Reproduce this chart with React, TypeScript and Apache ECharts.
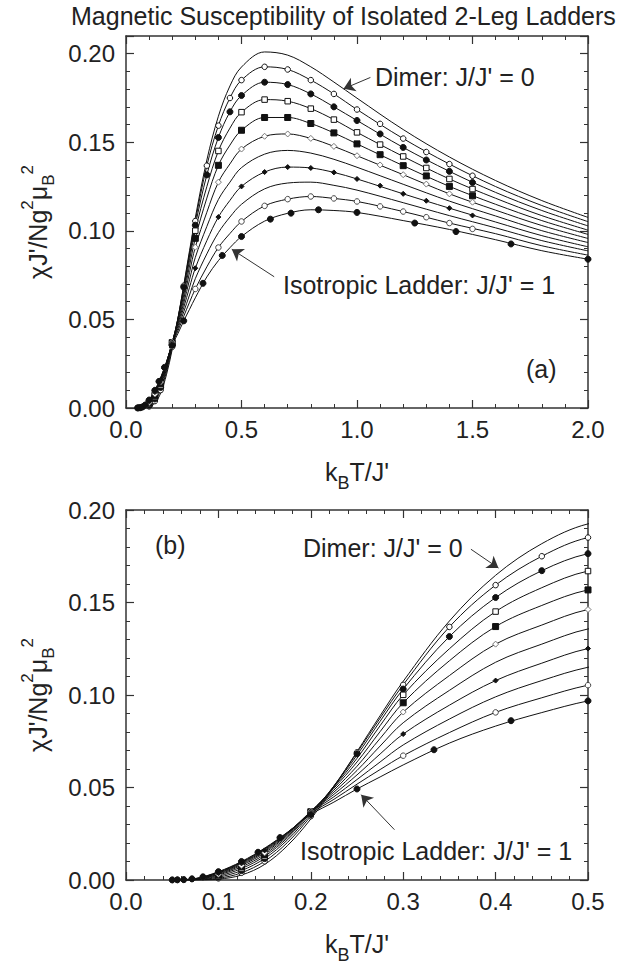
import React, { useEffect, useRef } from "react";
import * as echarts from "echarts";

// Temperature grid k_B T / J' used for the smooth curves
const T = [0.05, 0.075, 0.1, 0.125, 0.15, 0.175, 0.2, 0.225, 0.25, 0.275, 0.3, 0.35, 0.4, 0.45, 0.5, 0.6, 0.7, 0.8, 0.9, 1.0, 1.2, 1.4, 1.6, 1.8, 2.0];

// chi J' / N g^2 mu_B^2 for J/J' = 0 ... 1
const chi00 = [0, 0.00002, 0.00045, 0.0027, 0.0084, 0.0187, 0.033, 0.0504, 0.0694, 0.0888, 0.1074, 0.14, 0.1647, 0.1818, 0.1925, 0.201, 0.1992, 0.1926, 0.184, 0.1749, 0.1572, 0.1417, 0.1284, 0.1171, 0.1076];
const chi01 = [0, 0.00006, 0.0009, 0.0039, 0.0101, 0.0204, 0.0345, 0.0508, 0.0688, 0.0875, 0.1055, 0.1368, 0.1594, 0.175, 0.1851, 0.1926, 0.1911, 0.1851, 0.1773, 0.1685, 0.1521, 0.1377, 0.125, 0.1143, 0.1052];
const chi02 = [0, 0.00013, 0.0015, 0.0051, 0.0116, 0.0218, 0.0356, 0.0508, 0.0675, 0.0858, 0.1032, 0.1316, 0.1527, 0.1672, 0.1764, 0.1839, 0.1826, 0.1773, 0.17, 0.1623, 0.1471, 0.1336, 0.1217, 0.1115, 0.1028];
const chi03 = [0.00001, 0.00022, 0.0021, 0.0062, 0.0128, 0.0229, 0.0364, 0.0503, 0.0658, 0.0834, 0.1001, 0.125, 0.1451, 0.158, 0.167, 0.1741, 0.1732, 0.169, 0.1628, 0.1556, 0.142, 0.1293, 0.1184, 0.1086, 0.1004];
const chi04 = [0.00001, 0.00032, 0.0027, 0.0071, 0.0138, 0.0237, 0.0369, 0.0496, 0.0638, 0.0802, 0.0958, 0.1185, 0.137, 0.1484, 0.1568, 0.164, 0.164, 0.1606, 0.1553, 0.1491, 0.1368, 0.1251, 0.115, 0.1058, 0.098];
const chi05 = [0.00002, 0.00042, 0.0031, 0.0079, 0.0147, 0.0244, 0.0371, 0.0486, 0.0615, 0.0765, 0.0908, 0.1105, 0.1275, 0.1378, 0.1462, 0.1534, 0.1547, 0.1522, 0.1477, 0.1424, 0.1317, 0.1209, 0.1117, 0.103, 0.0957];
const chi06 = [0.00002, 0.0005, 0.0035, 0.0085, 0.0154, 0.0249, 0.0371, 0.0475, 0.0592, 0.0724, 0.085, 0.1025, 0.1177, 0.1275, 0.1357, 0.1433, 0.1454, 0.1439, 0.1404, 0.1359, 0.1263, 0.1168, 0.1084, 0.1001, 0.0934];
const chi07 = [0.00003, 0.00058, 0.0038, 0.009, 0.016, 0.0253, 0.0369, 0.0463, 0.0568, 0.0681, 0.0789, 0.0945, 0.1078, 0.1172, 0.1251, 0.1332, 0.136, 0.1355, 0.133, 0.1293, 0.1209, 0.1128, 0.105, 0.0973, 0.091];
const chi08 = [0.00004, 0.00064, 0.0041, 0.0094, 0.0165, 0.0256, 0.0365, 0.045, 0.0543, 0.0638, 0.073, 0.087, 0.099, 0.1078, 0.115, 0.1237, 0.127, 0.1275, 0.1257, 0.123, 0.1159, 0.1086, 0.1017, 0.0945, 0.0887];
const chi09 = [0.00004, 0.00069, 0.0043, 0.0097, 0.0169, 0.0258, 0.036, 0.0436, 0.0518, 0.0597, 0.0672, 0.0797, 0.0906, 0.0985, 0.1053, 0.1141, 0.1179, 0.1194, 0.1183, 0.1166, 0.1109, 0.1044, 0.0984, 0.0916, 0.0863];
const chi10 = [0.00005, 0.0008, 0.0045, 0.01, 0.0172, 0.0259, 0.0354, 0.0421, 0.0492, 0.0557, 0.0622, 0.074, 0.0832, 0.0905, 0.0968, 0.1055, 0.1099, 0.1119, 0.1115, 0.1104, 0.1058, 0.1008, 0.095, 0.0888, 0.084];

const curveNames = ["J/J' = 0", "J/J' = 0.1", "J/J' = 0.2", "J/J' = 0.3", "J/J' = 0.4", "J/J' = 0.5", "J/J' = 0.6", "J/J' = 0.7", "J/J' = 0.8", "J/J' = 0.9", "J/J' = 1"];

// Computed points (markers)
const mkTa = [0.1, 0.125, 0.15, 0.2, 0.25, 0.3, 0.35, 0.4, 0.45, 0.5, 0.6, 0.7, 0.8, 0.9, 1.0, 1.1, 1.2, 1.3, 1.4, 1.5];
const mkTb = [0.1, 0.125, 0.15, 0.2, 0.3, 0.4, 0.5, 0.6, 0.7, 0.8, 0.9, 1.0, 1.1, 1.2, 1.3, 1.4, 1.5];
const mkTc = [0.05, 0.0556, 0.0625, 0.0714, 0.0833, 0.1, 0.125, 0.1429, 0.1667, 0.2, 0.3, 0.4, 0.5, 0.6, 0.7, 0.8, 0.9, 1.0, 1.1, 1.2, 1.3, 1.4, 1.5];
const mkTd = [0.05, 0.0556, 0.0625, 0.0714, 0.0833, 0.1, 0.125, 0.1429, 0.1667, 0.2, 0.25, 0.3333, 0.4167, 0.5, 0.625, 0.7143, 0.8333, 1.0, 1.25, 1.4286, 1.6667, 2.0];

const mk01 = [0.0009, 0.0039, 0.0101, 0.0345, 0.069, 0.1055, 0.1368, 0.1594, 0.175, 0.1851, 0.1926, 0.1911, 0.1851, 0.1773, 0.1685, 0.1604, 0.1521, 0.1445, 0.1377, 0.1311];
const mk02 = [0.0015, 0.0051, 0.0116, 0.0356, 0.0682, 0.1032, 0.1316, 0.1527, 0.1672, 0.1764, 0.1839, 0.1826, 0.1773, 0.17, 0.1623, 0.1547, 0.1471, 0.14, 0.1336, 0.1273];
const mk03 = [0.0021, 0.0062, 0.0128, 0.0364, 0.1001, 0.1451, 0.167, 0.1741, 0.1732, 0.169, 0.1628, 0.1556, 0.1487, 0.142, 0.1355, 0.1293, 0.1236];
const mk04 = [0.0027, 0.0071, 0.0138, 0.0369, 0.0958, 0.137, 0.1568, 0.164, 0.164, 0.1606, 0.1553, 0.1491, 0.143, 0.1368, 0.131, 0.1251, 0.1198];
const mk05 = [0.0031, 0.0079, 0.0147, 0.0371, 0.0908, 0.1275, 0.1462, 0.1534, 0.1547, 0.1522, 0.1477, 0.1424, 0.1372, 0.1317, 0.1264, 0.1209, 0.1162];
const mk07 = [0.0038, 0.009, 0.016, 0.0369, 0.0789, 0.1078, 0.1251, 0.1332, 0.136, 0.1355, 0.133, 0.1293, 0.1255, 0.1209, 0.117, 0.1128, 0.1087];
const mk09 = [0.00004, 0.00008, 0.0002, 0.0006, 0.0016, 0.0043, 0.0097, 0.0149, 0.0228, 0.036, 0.0672, 0.0906, 0.1053, 0.1141, 0.1179, 0.1194, 0.1183, 0.1166, 0.1138, 0.1109, 0.1077, 0.1044, 0.1011];
const mk10 = [0.00005, 0.0001, 0.0002, 0.0006, 0.0017, 0.0045, 0.01, 0.015, 0.0229, 0.0354, 0.0492, 0.0704, 0.0861, 0.0968, 0.1066, 0.11, 0.1119, 0.1104, 0.1044, 0.0996, 0.0926, 0.084];

const xTicksTop = [0, 0.5, 1.0, 1.5, 2.0];
const xTicksBottom = [0, 0.1, 0.2, 0.3, 0.4, 0.5];
const yTicks = [0, 0.05, 0.1, 0.15, 0.2];

const FONT = '"Liberation Sans", Arial, Helvetica, sans-serif';
const TEXT = "#222";
const AXIS = "#333";
const LINE = "#111";

const curves = [chi00, chi01, chi02, chi03, chi04, chi05, chi06, chi07, chi08, chi09, chi10];

const markerSets = [
  { t: mkTa, v: mk01, symbol: "circle", size: 5.5, fill: "#fff", border: LINE },
  { t: mkTa, v: mk02, symbol: "circle", size: 6, fill: LINE, border: LINE },
  { t: mkTb, v: mk03, symbol: "rect", size: 5.5, fill: "#fff", border: LINE },
  { t: mkTb, v: mk04, symbol: "rect", size: 6, fill: LINE, border: LINE },
  { t: mkTb, v: mk05, symbol: "diamond", size: 6, fill: "#fff", border: "#777" },
  { t: mkTb, v: mk07, symbol: "diamond", size: 5, fill: LINE, border: LINE },
  { t: mkTc, v: mk09, symbol: "circle", size: 5.5, fill: "#fff", border: "#444" },
  { t: mkTd, v: mk10, symbol: "circle", size: 6, fill: LINE, border: LINE },
];

function xAxes(gridIndex: number, max: number, interval: number, ticks: number[]) {
  const common = {
    gridIndex,
    type: "value",
    min: 0,
    max,
    interval,
    axisLine: { show: true, onZero: false, lineStyle: { color: AXIS, width: 1.5 } },
    axisTick: { show: true, inside: true, length: 8, lineStyle: { color: AXIS, width: 1.2 } },
    minorTick: { show: true, splitNumber: 5, length: 4, lineStyle: { color: AXIS, width: 1 } },
    splitLine: { show: false },
    minorSplitLine: { show: false },
  };
  return [
    {
      ...common,
      position: "bottom",
      axisLabel: {
        show: true,
        fontSize: 24,
        fontFamily: FONT,
        color: TEXT,
        margin: 9,
        formatter: (v: number) => (ticks.some((t) => Math.abs(t - v) < 1e-9) ? v.toFixed(1) : ""),
      },
      name: "{a|k}{b|B}{a|T/J'}",
      nameLocation: "middle",
      nameGap: 51,
      nameTextStyle: {
        color: TEXT,
        fontFamily: FONT,
        fontSize: 25,
        rich: {
          a: { fontSize: 25, fontFamily: FONT, color: TEXT, lineHeight: 30, verticalAlign: "top" },
          b: { fontSize: 18, fontFamily: FONT, color: TEXT, lineHeight: 33, verticalAlign: "bottom" },
        },
      },
    },
    { ...common, position: "top", axisLabel: { show: false } },
  ];
}

const yName = {
  name: "{a|χJ'/Ng}{sup|2}{a|μ}{sub|B}{sup|2}",
  nameLocation: "middle",
  nameGap: 66,
  nameTextStyle: {
    color: TEXT,
    fontFamily: FONT,
    fontSize: 25,
    rich: {
      a: { fontSize: 25, fontFamily: FONT, color: TEXT, lineHeight: 38, verticalAlign: "middle" },
      sup: { fontSize: 17, fontFamily: FONT, color: TEXT, lineHeight: 20, verticalAlign: "top" },
      sub: { fontSize: 17, fontFamily: FONT, color: TEXT, lineHeight: 20, verticalAlign: "bottom" },
    },
  },
};

function yMajor(gridIndex: number, max: number, position: string, labels: boolean, minor: boolean) {
  return {
    gridIndex,
    type: "value",
    min: 0,
    max,
    interval: 0.05,
    position,
    axisLine: { show: true, onZero: false, lineStyle: { color: AXIS, width: 1.5 } },
    axisTick: { show: true, inside: true, length: 8, lineStyle: { color: AXIS, width: 1.2 } },
    minorTick: { show: minor, splitNumber: 5, length: 4, lineStyle: { color: AXIS, width: 1 } },
    splitLine: { show: false },
    minorSplitLine: { show: false },
    axisLabel: {
      show: labels,
      fontSize: 24,
      fontFamily: FONT,
      color: TEXT,
      margin: 11,
      formatter: (v: number) => (yTicks.some((t) => Math.abs(t - v) < 1e-9) ? v.toFixed(2) : ""),
    },
    ...(labels ? yName : {}),
  };
}

function yMinor(gridIndex: number, max: number, position: string) {
  return {
    gridIndex,
    type: "value",
    min: 0,
    max,
    interval: 0.01,
    position,
    axisLine: { show: false, onZero: false },
    axisTick: { show: true, inside: true, length: 4, lineStyle: { color: AXIS, width: 1 } },
    axisLabel: { show: false },
    splitLine: { show: false },
  };
}

function panelSeries(xAxisIndex: number, yAxisIndex: number, arrows: { dimer: number[][]; iso: number[][] }) {
  const s: any[] = [];
  curves.forEach((c, i) => {
    const ser: any = {
      type: "line",
      name: curveNames[i],
      xAxisIndex,
      yAxisIndex,
      data: T.map((t, k) => [t, c[k]]),
      smooth: 0.35,
      showSymbol: false,
      symbol: "none",
      silent: true,
      lineStyle: { color: LINE, width: 1 },
      z: 2,
    };
    const arrow = i === 0 ? arrows.dimer : i === 10 ? arrows.iso : null;
    if (arrow) {
      ser.markLine = {
        silent: true,
        symbol: ["none", "arrow"],
        symbolSize: 11,
        label: { show: false },
        lineStyle: { color: "#333", width: 1, type: "solid" },
        emphasis: { disabled: true },
        data: [[{ coord: arrow[0] }, { coord: arrow[1] }]],
      };
    }
    s.push(ser);
  });
  markerSets.forEach((m) => {
    s.push({
      type: "scatter",
      xAxisIndex,
      yAxisIndex,
      data: m.t.map((t, k) => [t, m.v[k]]),
      symbol: m.symbol,
      symbolSize: m.size,
      silent: true,
      clip: true,
      itemStyle: { color: m.fill, borderColor: m.border, borderWidth: 1, opacity: 1 },
      z: 3,
    });
  });
  return s;
}

const textEl = (text: string, x: number, y: number) => ({
  type: "text",
  x,
  y,
  silent: true,
  style: {
    text,
    fontSize: 25,
    fontFamily: FONT,
    fill: TEXT,
    textAlign: "left",
    textVerticalAlign: "middle",
    align: "left",
    verticalAlign: "middle",
  },
});

export default function App() {
  const ref = useRef<HTMLDivElement>(null);
  useEffect(() => {
    if (!ref.current) return;
    const chart = echarts.init(ref.current, undefined, { renderer: "svg" });
    const option: any = {
      animation: false,
      backgroundColor: "#fff",
      title: {
        text: "Magnetic Susceptibility of Isolated 2-Leg Ladders",
        left: 71,
        top: 3,
        padding: 0,
        textStyle: { fontSize: 25, fontWeight: "normal", fontFamily: FONT, color: TEXT },
      },
      grid: [
        { left: 126, top: 36, width: 462, height: 372 },
        { left: 126, top: 510, width: 462, height: 370 },
      ],
      xAxis: [...xAxes(0, 2, 0.5, xTicksTop), ...xAxes(1, 0.5, 0.1, xTicksBottom)],
      yAxis: [
        yMajor(0, 0.21, "left", true, false),
        yMinor(0, 0.21, "left"),
        yMajor(0, 0.21, "right", false, false),
        yMinor(0, 0.21, "right"),
        yMajor(1, 0.2, "left", true, true),
        yMajor(1, 0.2, "right", false, true),
      ],
      series: [
        ...panelSeries(0, 0, {
          dimer: [[1.058, 0.1866], [0.942, 0.1802]],
          iso: [[0.6415, 0.0741], [0.458, 0.0896]],
        }),
        ...panelSeries(2, 4, {
          dimer: [[0.3733, 0.1788], [0.4031, 0.1686]],
          iso: [[0.2905, 0.0272], [0.2545, 0.0461]],
        }),
      ],
      graphic: [
        textEl("Dimer: J/J' = 0", 375, 77),
        textEl("Isotropic Ladder: J/J' = 1", 283, 285),
        textEl("(a)", 526, 369),
        textEl("(b)", 155, 545),
        textEl("Dimer: J/J' = 0", 303, 548),
        textEl("Isotropic Ladder: J/J' = 1", 300, 851),
      ],
    };
    chart.setOption(option);
    return () => chart.dispose();
  }, []);
  return (
    <div
      ref={ref}
      style={{ position: "absolute", left: 0, top: 0, width: 626, height: 969, background: "#fff" }}
    />
  );
}
